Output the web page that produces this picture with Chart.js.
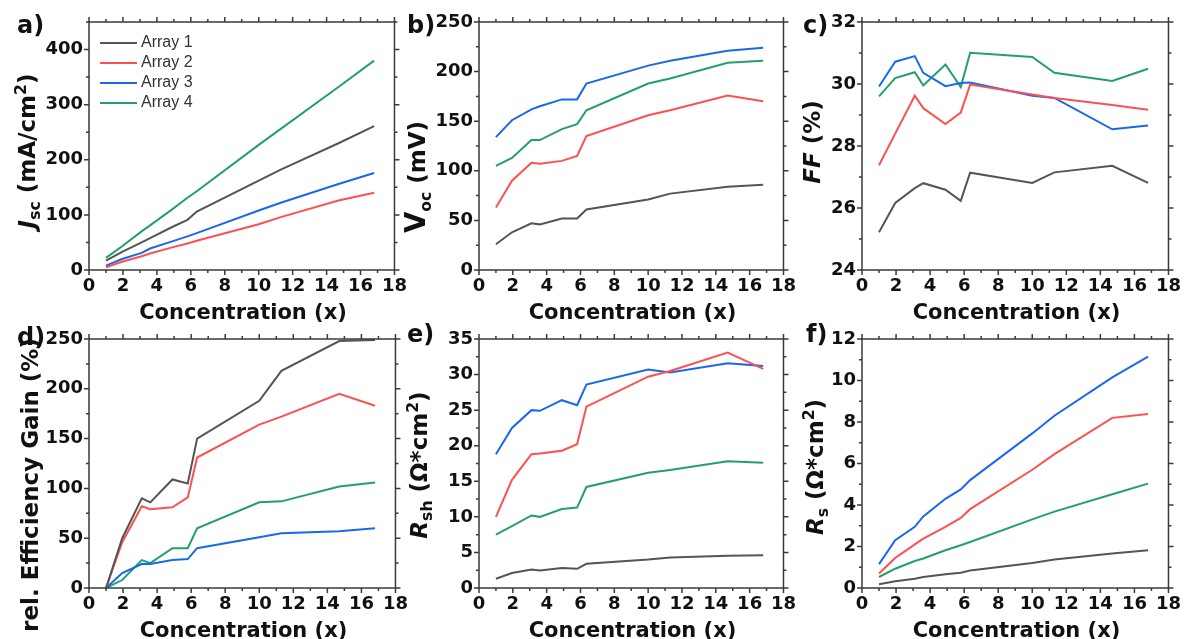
<!DOCTYPE html>
<html>
<head>
<meta charset="utf-8">
<script src="https://cdn.jsdelivr.net/npm/chart.js@4.4.0/dist/chart.umd.min.js"></script>
<style>
  body { margin: 0; background: #fff; }
  #wrap { position: relative; width: 1186px; height: 639px; overflow: hidden; font-family: "DejaVu Sans", sans-serif; color: #111; }
  canvas { position: absolute; }
  .tag { position: absolute; font-weight: bold; font-size: 24px; line-height: 1; }
  .xt { position: absolute; font-weight: bold; font-size: 21px; line-height: 1; transform: translateX(-50%); white-space: nowrap; }
  .yt { position: absolute; font-weight: bold; font-size: 23px; line-height: 1; transform: translate(-50%, -50%) rotate(-90deg); white-space: nowrap; }
  .yt sub, .yt sup { font-size: 0.68em; line-height: 0; }
  .yt .big { font-size: 1.2em; }
  #legend { position: absolute; left: 100px; top: 32px; font-family: "Liberation Sans", Arial, sans-serif; font-size: 16px; color: #333; }
  #legend div { height: 20px; line-height: 20px; white-space: nowrap; }
  #legend span { display: inline-block; width: 37px; height: 2px; vertical-align: middle; margin-right: 4px; }
</style>
</head>
<body>
<div id="wrap"></div>
<script>
// concentration steps shared by all four arrays
const concentration = [1, 1.95, 3.1, 3.6, 4.9, 5.8, 6.35, 10, 11.3, 14.7, 16.8];
const seriesNames = ["Array 1", "Array 2", "Array 3", "Array 4"];
const seriesColors = ["#555555", "#ff5050", "#1a68ec", "#22a06c"];

// each list: Array 1, Array 2, Array 3, Array 4
const jsc = [
  [17, 33, 50, 58, 78, 91, 106, 162, 182, 230, 261],
  [5, 15, 25, 30, 41, 48, 53, 83, 96, 126, 140],
  [8, 20, 31, 39, 52, 61, 67, 108, 122, 156, 176],
  [22, 43, 70, 81, 110, 131, 143, 227, 256, 332, 380]
];
const voc = [
  [26, 38, 47, 46, 52, 52, 61, 71, 77, 84, 86],
  [63, 90, 108, 107, 110, 115, 135, 156, 161, 176, 170],
  [134, 151, 162, 165, 172, 172, 188, 206, 211, 221, 224],
  [105, 113, 131, 131, 142, 147, 161, 188, 193, 209, 211]
];
const ff = [
  [25.22, 26.16, 26.64, 26.8, 26.59, 26.23, 27.14, 26.81, 27.15, 27.36, 26.81],
  [27.38, 28.4, 29.62, 29.22, 28.71, 29.08, 29.98, 29.66, 29.55, 29.32, 29.17],
  [29.92, 30.72, 30.9, 30.36, 29.93, 30.03, 30.05, 29.62, 29.55, 28.54, 28.66],
  [29.6, 30.19, 30.38, 29.95, 30.63, 29.9, 31.01, 30.87, 30.36, 30.1, 30.49]
];
const effGain = [
  [0, 50, 90, 86, 109, 105, 150, 188, 218, 248, 249],
  [0, 46, 82, 79, 81, 91, 131, 164, 172, 195, 183],
  [0, 15, 24, 24, 28, 29, 40, 51, 55, 57, 60],
  [0, 8, 28, 25, 40, 40, 60, 86, 87, 102, 106]
];
const rsh = [
  [1.3, 2.1, 2.6, 2.45, 2.8, 2.7, 3.4, 4.0, 4.3, 4.55, 4.6],
  [10.0, 15.2, 18.8, 18.9, 19.3, 20.2, 25.5, 29.7, 30.5, 33.1, 30.8],
  [18.8, 22.5, 25.0, 24.9, 26.4, 25.7, 28.6, 30.7, 30.3, 31.6, 31.2],
  [7.5, 8.7, 10.2, 10.0, 11.1, 11.3, 14.2, 16.2, 16.6, 17.8, 17.6]
];
const rs = [
  [0.18, 0.32, 0.45, 0.53, 0.66, 0.74, 0.84, 1.2, 1.37, 1.66, 1.82],
  [0.7, 1.45, 2.1, 2.38, 2.95, 3.38, 3.8, 5.7, 6.45, 8.2, 8.38],
  [1.15, 2.3, 2.95, 3.45, 4.3, 4.75, 5.2, 7.45, 8.3, 10.15, 11.15],
  [0.53, 0.93, 1.3, 1.42, 1.82, 2.06, 2.22, 3.31, 3.68, 4.52, 5.03]
];

const xTitle = "Concentration (x)";

const panels = [
  { tag: "a)", values: jsc, yMin: 0, yMax: 450, yStep: 100,
    yTitle: "<i>J</i><sub>sc</sub> (mA/cm<sup>2</sup>)",
    box: [89, 397, 22, 270], tagPos: [17, 13], yTitlePos: [27, 151] },
  { tag: "b)", values: voc, yMin: 0, yMax: 250, yStep: 50,
    yTitle: "<span class=\"big\">V</span><sub>oc</sub> (mV)",
    box: [479, 786, 22, 270], tagPos: [407, 13], yTitlePos: [416, 177] },
  { tag: "c)", values: ff, yMin: 24, yMax: 32, yStep: 2,
    yTitle: "<i>FF</i> (%)",
    box: [862, 1171, 22, 270], tagPos: [803, 13], yTitlePos: [812, 142] },
  { tag: "d)", values: effGain, yMin: 0, yMax: 250, yStep: 50,
    yTitle: "rel. Efficiency Gain (%)",
    box: [89, 398, 339, 588], tagPos: [17, 325], yTitlePos: [30, 485] },
  { tag: "e)", values: rsh, yMin: 0, yMax: 35, yStep: 5,
    yTitle: "<i>R</i><sub>sh</sub> (Ω*cm<sup>2</sup>)",
    box: [479, 786, 339, 588], tagPos: [407, 322], yTitlePos: [419, 465] },
  { tag: "f)", values: rs, yMin: 0, yMax: 12, yStep: 2,
    yTitle: "<i>R</i><sub>s</sub> (Ω*cm<sup>2</sup>)",
    box: [862, 1171, 339, 588], tagPos: [806, 322], yTitlePos: [815, 467] }
];

const Y_AXIS_W = 89, X_AXIS_H = 40, PAD_TOP = 22, PAD_RIGHT = 16, PAD_BOTTOM = 10;
const tickFont = { family: "DejaVu Sans", weight: "bold", size: 18 };

// box with outward major/minor ticks on all four sides
const framePlugin = {
  id: "frame",
  afterDraw(chart) {
    const { ctx, chartArea: a } = chart;
    const marks = (scale) => {
      const vals = scale.ticks.map(t => t.value);
      const half = (vals[1] - vals[0]) / 2;
      const out = [];
      for (let v = scale.min; v <= scale.max + 1e-9; v += half) {
        const major = vals.some(m => Math.abs(m - v) < 1e-9);
        out.push({ p: scale.getPixelForValue(v), len: major ? 5 : 3 });
      }
      return out;
    };
    ctx.save();
    ctx.strokeStyle = "#3a3a3a";
    ctx.lineWidth = 1.5;
    ctx.strokeRect(a.left, a.top, a.right - a.left, a.bottom - a.top);
    ctx.beginPath();
    marks(chart.scales.x).forEach(m => {
      ctx.moveTo(m.p, a.bottom); ctx.lineTo(m.p, a.bottom + m.len);
      ctx.moveTo(m.p, a.top); ctx.lineTo(m.p, a.top - m.len);
    });
    marks(chart.scales.y).forEach(m => {
      ctx.moveTo(a.left, m.p); ctx.lineTo(a.left - m.len, m.p);
      ctx.moveTo(a.right, m.p); ctx.lineTo(a.right + m.len, m.p);
    });
    ctx.stroke();
    ctx.restore();
  }
};

const wrap = document.getElementById("wrap");

function addDiv(cls, html, left, top) {
  const d = document.createElement("div");
  d.className = cls;
  d.innerHTML = html;
  d.style.left = left + "px";
  d.style.top = top + "px";
  wrap.appendChild(d);
  return d;
}

panels.forEach(p => {
  const [L, R, T, B] = p.box;
  const canvas = document.createElement("canvas");
  canvas.width = (R - L) + Y_AXIS_W + PAD_RIGHT;
  canvas.height = (B - T) + PAD_TOP + X_AXIS_H + PAD_BOTTOM;
  canvas.style.left = (L - Y_AXIS_W) + "px";
  canvas.style.top = (T - PAD_TOP) + "px";
  wrap.appendChild(canvas);

  const datasets = p.values.map((vals, i) => ({
    label: seriesNames[i],
    data: vals.map((v, k) => ({ x: concentration[k], y: v })),
    borderColor: seriesColors[i],
    borderWidth: 2,
    pointRadius: 0,
    tension: 0
  }));

  new Chart(canvas.getContext("2d"), {
    type: "line",
    data: { datasets },
    plugins: [framePlugin],
    options: {
      responsive: false,
      animation: false,
      layout: { padding: { top: PAD_TOP, right: PAD_RIGHT, bottom: PAD_BOTTOM, left: 0 } },
      plugins: { legend: { display: false }, tooltip: { enabled: false } },
      scales: {
        x: {
          type: "linear", min: 0, max: 18,
          ticks: { stepSize: 2, padding: 6, font: tickFont, color: "#111", maxRotation: 0, autoSkip: false },
          grid: { display: false, drawTicks: false },
          border: { display: false },
          afterFit: s => { s.height = X_AXIS_H; }
        },
        y: {
          type: "linear", min: p.yMin, max: p.yMax,
          ticks: { stepSize: p.yStep, padding: 6, includeBounds: false, font: tickFont, color: "#111" },
          grid: { display: false, drawTicks: false },
          border: { display: false },
          afterFit: s => { s.width = Y_AXIS_W; }
        }
      }
    }
  });

  addDiv("tag", p.tag, p.tagPos[0], p.tagPos[1]);
  addDiv("xt", xTitle, (L + R) / 2, B + 32);
  addDiv("yt", p.yTitle, p.yTitlePos[0], p.yTitlePos[1]);
});

// legend inside panel a
const legend = document.createElement("div");
legend.id = "legend";
seriesNames.forEach((name, i) => {
  const row = document.createElement("div");
  row.innerHTML = `<span style="background:${seriesColors[i]}"></span>${name}`;
  legend.appendChild(row);
});
wrap.appendChild(legend);
</script>
</body>
</html>
